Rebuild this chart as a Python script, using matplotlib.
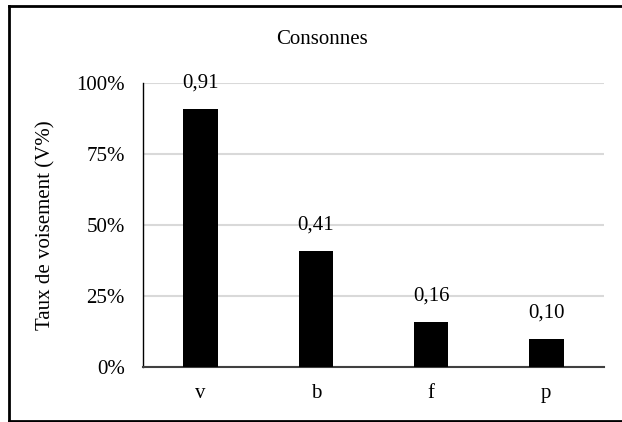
import matplotlib.pyplot as plt
from matplotlib.lines import Line2D
from matplotlib.ticker import FuncFormatter

# Data
consonnes = ['v', 'b', 'f', 'p']
voisement = [0.91, 0.41, 0.16, 0.10]
etiquettes = ['0,91', '0,41', '0,16', '0,10']
yticks = [0, 0.25, 0.5, 0.75, 1.0]

plt.rcParams['font.family'] = 'Liberation Serif'
plt.rcParams['font.size'] = 15

fig = plt.figure(figsize=(6.22, 4.22), dpi=100)
ax = fig.add_axes([143 / 622, 1 - 367 / 422, 461 / 622, 284 / 422])

x = range(len(consonnes))
bars = ax.bar(x, voisement, width=0.30, color='black', zorder=3)

# value labels
for b, lab in zip(bars, etiquettes):
    ax.text(b.get_x() + b.get_width() / 2, b.get_height() + 0.055, lab,
            ha='center', va='bottom', fontsize=15)

ax.set_xlim(-0.5, len(consonnes) - 0.5)
ax.set_ylim(0, 1.0)
ax.set_yticks(yticks)
ax.yaxis.set_major_formatter(FuncFormatter(lambda v, p: f'{v * 100:.0f}%'))
ax.set_xticks(list(x))
ax.set_xticklabels(consonnes)

ax.grid(axis='y', color='#d9d9d9', linewidth=1.5, zorder=0)
ax.tick_params(axis='both', length=0)
ax.tick_params(axis='y', pad=13)
ax.tick_params(axis='x', pad=12)

for s in ['top', 'right']:
    ax.spines[s].set_visible(False)
ax.spines['left'].set_color('black')
ax.spines['left'].set_linewidth(1.0)
ax.spines['bottom'].set_color('#404040')
ax.spines['bottom'].set_linewidth(1.5)

ax.set_ylabel('Taux de voisement (V%)')
ax.yaxis.set_label_coords((55 - 143) / 461, 0.5)

fig.text(322 / 622, 1 - 39 / 422, 'Consonnes', ha='center', va='center', fontsize=15)

# chart border (right edge is cut off in the original)
x0, x1 = 9 / 622, 1.0
y0, y1 = 1 - 421 / 422, 1 - 6 / 422
for xs, ys in [([x0, x1], [y1, y1]), ([x0, x0], [y0, y1]), ([x0, x1], [y0, y0])]:
    fig.lines.append(Line2D(xs, ys, transform=fig.transFigure,
                            color='black', linewidth=2))

fig.savefig('out.png', dpi=100)
